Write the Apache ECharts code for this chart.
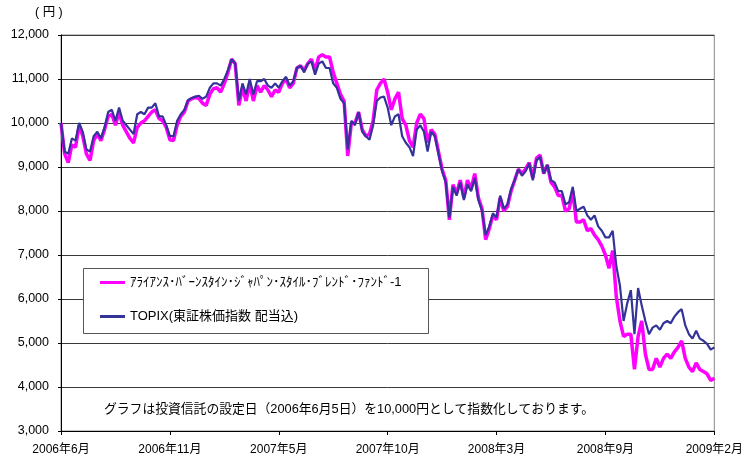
<!DOCTYPE html>
<html>
<head>
<meta charset="utf-8">
<script src="https://cdn.jsdelivr.net/npm/echarts@6/dist/echarts.min.js"></script>
<style>
html,body{margin:0;padding:0;background:#fff;}
#c{width:746px;height:461px;}
</style>
</head>
<body>
<div id="c"></div>
<script>
const tickLabels = ['2006年6月','2006年11月','2007年5月','2007年10月','2008年3月','2008年9月','2009年2月'];
const pointsPerTick = 30;
const fundName = 'ｱﾗｲｱﾝｽ･ﾊﾞｰﾝｽﾀｲﾝ･ｼﾞｬﾊﾟﾝ･ｽﾀｲﾙ･ﾌﾞﾚﾝﾄﾞ･ﾌｧﾝﾄﾞ-1';
const topixName = 'TOPIX(東証株価指数 配当込)';
const fundValues = [
10000,9300,9100,9500,9450,9950,9700,9300,9150,9600,
9750,9600,9850,10150,10200,9950,10250,9950,9800,9650,
9550,9900,10000,10050,10150,10250,10300,10100,10050,9900,
9620,9600,9950,10150,10250,10500,10550,10580,10560,10450,
10400,10650,10780,10800,10700,10900,11150,11450,11350,10400,
10800,10500,10900,10500,10850,10700,10850,10750,10600,10750,
10700,10900,11000,10800,10900,11250,11300,11200,11350,11450,
11200,11500,11550,11500,11500,11150,10900,10650,10500,9250,
10000,10000,10250,9850,9700,9750,10050,10750,10900,11000,
10700,10300,10550,10700,10100,9950,9600,9450,10000,10200,
10100,9550,9850,9750,9350,8950,8700,7800,8600,8400,
8700,8300,8700,8500,8850,8300,8050,7350,7600,7900,
7800,8300,8000,8100,8450,8700,8950,8850,8950,9100,
8750,9200,9270,8850,9050,8650,8550,8350,8350,8000,
8050,8450,7750,7750,7800,7550,7600,7450,7350,7200,
7000,6700,7100,6050,5500,5150,5200,5200,4400,5150,
5500,4750,4400,4400,4650,4450,4650,4750,4650,4800,
4900,5050,4650,4450,4350,4550,4400,4350,4300,4150,
4200];
const topixValues = [
10000,9350,9300,9650,9600,10000,9800,9400,9350,9700,
9800,9650,9900,10250,10300,10050,10350,10050,9950,9850,
9750,10200,10250,10200,10350,10350,10450,10150,10150,9950,
9700,9700,10050,10200,10300,10520,10570,10600,10620,10550,
10600,10800,10900,10900,10850,11000,11200,11450,11350,10500,
10900,10650,11000,10650,10950,10950,11000,10850,10800,10900,
10800,10950,11050,10850,10950,11250,11300,11150,11350,11400,
11100,11350,11400,11250,11250,10900,10800,10550,10450,9400,
10050,9950,10250,9800,9700,9620,9950,10500,10580,10600,
10350,9950,10150,10200,9700,9550,9450,9250,9850,9950,
9800,9350,9800,9700,9300,8900,8650,7850,8550,8350,
8650,8250,8600,8450,8750,8250,8000,7450,7650,7950,
7850,8350,8050,8150,8500,8700,8950,8800,8900,9080,
8700,9150,9230,8850,9050,8700,8650,8450,8450,8150,
8200,8550,8000,8050,8100,7900,7800,7900,7650,7550,
7400,7400,7550,6750,6300,5500,5900,6200,5200,6250,
5850,5500,5200,5350,5400,5300,5450,5500,5450,5600,
5700,5770,5400,5200,5100,5280,5100,5050,4980,4850,
4900];
const categories = fundValues.map((_, i) => i);
const note = 'グラフは投資信託の設定日（2006年6月5日）を10,000円として指数化しております。';
const FONT = '"Liberation Sans", Arial, "Noto Sans CJK JP", sans-serif';

const chart = echarts.init(document.getElementById('c'), null, {renderer: 'canvas'});
chart.setOption({
  animation: false,
  backgroundColor: '#ffffff',
  grid: {left: 61, right: 30, top: 35, bottom: 30, show: true, borderColor: '#888', borderWidth: 1, containLabel: false},
  xAxis: {
    type: 'category',
    data: categories,
    boundaryGap: false,
    axisLine: {lineStyle: {color: '#000', width: 1}},
    axisTick: {show: true, interval: pointsPerTick - 1, length: 4, lineStyle: {color: '#000'}},
    axisLabel: {
      interval: pointsPerTick - 1, margin: 13, color: '#000', fontSize: 12, fontFamily: FONT,
      formatter: (v, idx) => (idx % pointsPerTick === 0 ? tickLabels[idx / pointsPerTick] : '')
    },
    splitLine: {show: false}
  },
  yAxis: {
    type: 'value', min: 3000, max: 12000, interval: 1000,
    axisLine: {show: true, lineStyle: {color: '#000', width: 1}},
    axisTick: {show: true, length: 3, inside: false, lineStyle: {color: '#000'}},
    axisLabel: {margin: 12, color: '#000', fontSize: 12.5, fontFamily: FONT,
      formatter: v => v.toLocaleString('en-US')},
    splitLine: {show: true, lineStyle: {color: '#3a3a3a', width: 1}}
  },
  legend: {
    left: 100, top: 276, orient: 'vertical', itemGap: 21, z: 10, padding: 0,
    itemWidth: 25, itemHeight: 3, icon: 'rect',
    textStyle: {fontSize: 13, fontFamily: FONT, color: '#000'},
    data: [fundName, topixName]
  },
  graphic: [
    {type: 'rect', left: 83, top: 268, z: 5, shape: {width: 345, height: 65},
     style: {fill: '#fff', stroke: '#555', lineWidth: 1}},
    {type: 'text', left: 35, top: 6, style: {text: '( 円 )', fontSize: 12.5, fontFamily: FONT, fill: '#000'}},
    {type: 'text', left: 104, top: 403, style: {text: note, fontSize: 12.8, fontFamily: FONT, fill: '#000'}}
  ],
  series: [
    {name: fundName, type: 'line', data: fundValues, showSymbol: false, symbol: 'none',
     lineStyle: {color: '#ff00ff', width: 3.5}, itemStyle: {color: '#ff00ff'}, z: 2},
    {name: topixName, type: 'line', data: topixValues, showSymbol: false, symbol: 'none',
     lineStyle: {color: '#333399', width: 2.2}, itemStyle: {color: '#333399'}, z: 3}
  ]
});
</script>
</body>
</html>
